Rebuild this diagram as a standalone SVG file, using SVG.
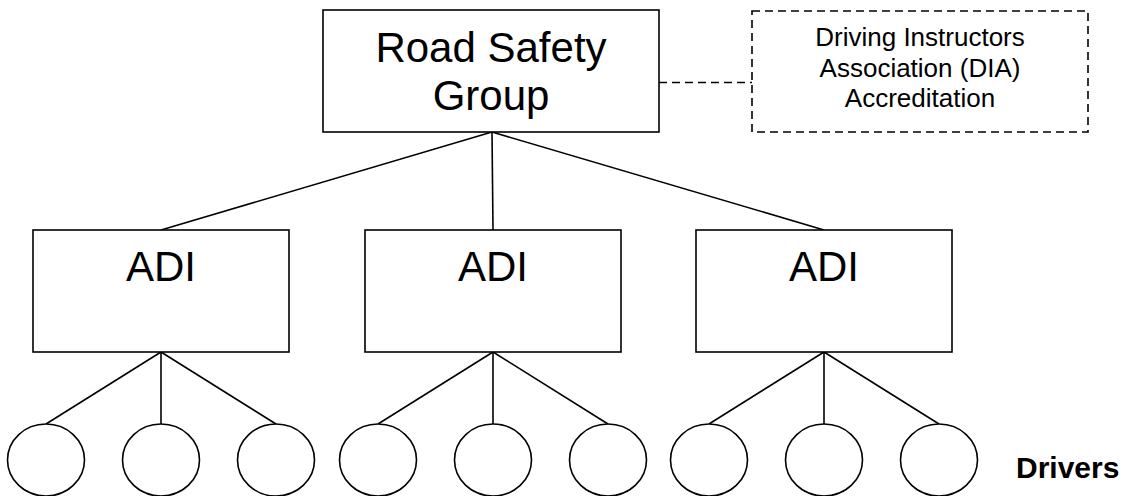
<svg xmlns="http://www.w3.org/2000/svg" width="1130" height="496" viewBox="0 0 1130 496">
<style>
.box{fill:#fff;stroke:#000;stroke-width:1.6}
.dbox{fill:#fff;stroke:#000;stroke-width:1.6;stroke-dasharray:8 5}
.ln{fill:none;stroke:#000;stroke-width:1.6}
.dln{fill:none;stroke:#000;stroke-width:1.6;stroke-dasharray:8 5}
.big{font-family:"Liberation Sans",Arial,sans-serif;font-size:42px;text-anchor:middle;fill:#000}
.small{font-family:"Liberation Sans",Arial,sans-serif;font-size:26px;text-anchor:middle;fill:#000}
.lbl{font-family:"Liberation Sans",Arial,sans-serif;font-size:30px;font-weight:bold;fill:#000}
.drv{fill:#fff;stroke:#000;stroke-width:1.6}
</style>
<rect width="1130" height="496" fill="#fff"/>
<g id="connectors">
<line class="dln" x1="659" y1="82.5" x2="752" y2="82.5"/>
<line class="ln" x1="492" y1="132" x2="161" y2="230"/>
<line class="ln" x1="492" y1="132" x2="493" y2="230"/>
<line class="ln" x1="492" y1="132" x2="824" y2="230"/>
<line class="ln" x1="161" y1="352" x2="46" y2="424"/>
<line class="ln" x1="161" y1="352" x2="161" y2="424"/>
<line class="ln" x1="161" y1="352" x2="276" y2="424"/>
<line class="ln" x1="493" y1="352" x2="378" y2="424"/>
<line class="ln" x1="493" y1="352" x2="493" y2="424"/>
<line class="ln" x1="493" y1="352" x2="608" y2="424"/>
<line class="ln" x1="824" y1="352" x2="709" y2="424"/>
<line class="ln" x1="824" y1="352" x2="824" y2="424"/>
<line class="ln" x1="824" y1="352" x2="939" y2="424"/>
</g>
<g id="road-safety-group">
<rect class="box" x="323" y="10" width="336" height="122"/>
<text class="big" x="491" y="62">Road Safety</text>
<text class="big" x="491" y="110">Group</text>
</g>
<g id="dia">
<rect class="dbox" x="752" y="11" width="336" height="121"/>
<text class="small" x="920" y="46">Driving Instructors</text>
<text class="small" x="920" y="76.5">Association (DIA)</text>
<text class="small" x="920" y="107">Accreditation</text>
</g>
<g id="adi1">
<rect class="box" x="33" y="230" width="256" height="122"/>
<text class="big" x="161" y="281">ADI</text>
</g>
<g id="adi2">
<rect class="box" x="365" y="230" width="256" height="122"/>
<text class="big" x="493" y="281">ADI</text>
</g>
<g id="adi3">
<rect class="box" x="696" y="230" width="256" height="122"/>
<text class="big" x="824" y="281">ADI</text>
</g>
<g id="driver1"><ellipse class="drv" cx="46" cy="460" rx="38.5" ry="36"/></g>
<g id="driver2"><ellipse class="drv" cx="161" cy="460" rx="38.5" ry="36"/></g>
<g id="driver3"><ellipse class="drv" cx="276" cy="460" rx="38.5" ry="36"/></g>
<g id="driver4"><ellipse class="drv" cx="378" cy="460" rx="38.5" ry="36"/></g>
<g id="driver5"><ellipse class="drv" cx="493" cy="460" rx="38.5" ry="36"/></g>
<g id="driver6"><ellipse class="drv" cx="608" cy="460" rx="38.5" ry="36"/></g>
<g id="driver7"><ellipse class="drv" cx="709" cy="460" rx="38.5" ry="36"/></g>
<g id="driver8"><ellipse class="drv" cx="824" cy="460" rx="38.5" ry="36"/></g>
<g id="driver9"><ellipse class="drv" cx="939" cy="460" rx="38.5" ry="36"/></g>
<g id="drivers-label">
<text class="lbl" x="1016" y="478">Drivers</text>
</g>
</svg>
